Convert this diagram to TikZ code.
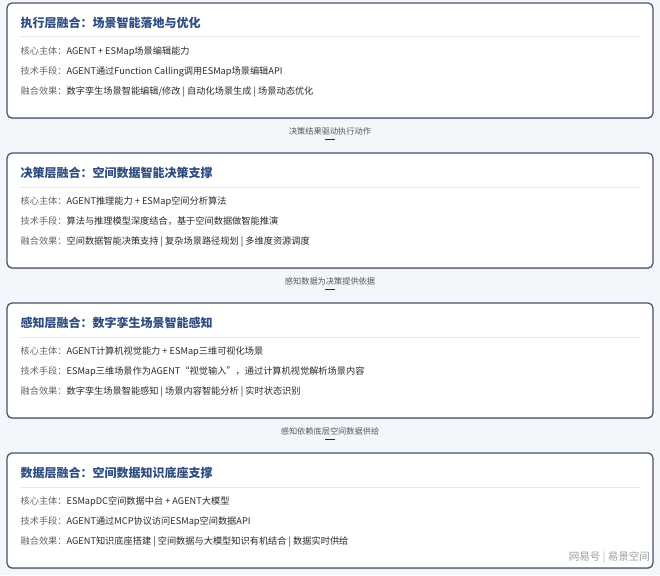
\documentclass[tikz,border=0pt]{standalone}
\usepackage{fontspec}
\setmainfont{Noto Sans CJK SC}
\usetikzlibrary{shadows}
\definecolor{bgc}{HTML}{F3F6FA}
\definecolor{framec}{HTML}{46506A}
\definecolor{ttlc}{HTML}{2E4C80}
\definecolor{lblc}{HTML}{666666}
\definecolor{txtc}{HTML}{2B2B2B}
\definecolor{sepc}{HTML}{E4E8EE}
\definecolor{wmc}{HTML}{9AA1AA}
\tikzset{
  layerbox/.style={draw=framec, line width=1.2pt, fill=white, rounded corners=5pt,
    minimum width=646pt, minimum height=115pt, inner sep=0pt,
    drop shadow={shadow xshift=0pt, shadow yshift=-1.2pt, opacity=0.18, fill=black}},
  ttlstyle/.style={anchor=west, inner sep=0pt, text=ttlc, font=\fontsize{12}{14}\selectfont\bfseries},
  bodystyle/.style={anchor=west, inner sep=0pt, text=txtc, font=\fontsize{9.2}{11}\selectfont},
  seprule/.style={draw=sepc, line width=0.8pt},
  linklabel/.style={inner sep=1pt, text=lblc!85!black, font=\fontsize{8.2}{10}\selectfont},
  linkdash/.style={draw=txtc, line width=1.4pt}
}
\newcommand\mklayer[6]{%
  \node[layerbox] (#1) at (330,#2) {};
  \node[ttlstyle] (#1t) at ([xshift=14pt,yshift=-21pt]#1.north west) {#3};
  \draw[seprule] ([xshift=14pt,yshift=-34.5pt]#1.north west) -- ([xshift=-14pt,yshift=-34.5pt]#1.north east);
  \node[bodystyle] (#1a) at ([xshift=14pt,yshift=-49pt]#1.north west) {{\color{lblc}核心主体：}#4};
  \node[bodystyle] (#1b) at ([xshift=14pt,yshift=-69pt]#1.north west) {{\color{lblc}技术手段：}#5};
  \node[bodystyle] (#1c) at ([xshift=14pt,yshift=-89pt]#1.north west) {{\color{lblc}融合效果：}#6};
}
\newcommand\mklink[3]{%
  \node[linklabel] (#1) at (330,#2) {#3};
  \draw[linkdash] ([xshift=-5pt,yshift=-3pt]#1.south) -- ([xshift=5pt,yshift=-3pt]#1.south);
}
\begin{document}
\begin{tikzpicture}[x=1pt,y=-1pt]
\fill[bgc] (0,0) rectangle (660,575);
\useasboundingbox (0,0) rectangle (660,575);

\mklayer{L1}{60.5}{执行层融合：场景智能落地与优化}
  {AGENT + ESMap场景编辑能力}
  {AGENT通过Function Calling调用ESMap场景编辑API}
  {数字孪生场景智能编辑/修改 | 自动化场景生成 | 场景动态优化}

\mklayer{L2}{210.5}{决策层融合：空间数据智能决策支撑}
  {AGENT推理能力 + ESMap空间分析算法}
  {算法与推理模型深度结合，基于空间数据做智能推演}
  {空间数据智能决策支持 | 复杂场景路径规划 | 多维度资源调度}

\mklayer{L3}{360.5}{感知层融合：数字孪生场景智能感知}
  {AGENT计算机视觉能力 + ESMap三维可视化场景}
  {ESMap三维场景作为AGENT“视觉输入”，通过计算机视觉解析场景内容}
  {数字孪生场景智能感知 | 场景内容智能分析 | 实时状态识别}

\mklayer{L4}{510.5}{数据层融合：空间数据知识底座支撑}
  {ESMapDC空间数据中台 + AGENT大模型}
  {AGENT通过MCP协议访问ESMap空间数据API}
  {AGENT知识底座搭建 | 空间数据与大模型知识有机结合 | 数据实时供给}

\mklink{C1}{131.5}{决策结果驱动执行动作}
\mklink{C2}{281.5}{感知数据为决策提供依据}
\mklink{C3}{431.5}{感知依赖底层空间数据供给}

\node[anchor=east, inner sep=0pt, text=wmc, font=\fontsize{10.5}{12}\selectfont] (wm) at (650,558) {网易号 {\color{wmc!70}|} 易景空间};
\end{tikzpicture}
\end{document}
